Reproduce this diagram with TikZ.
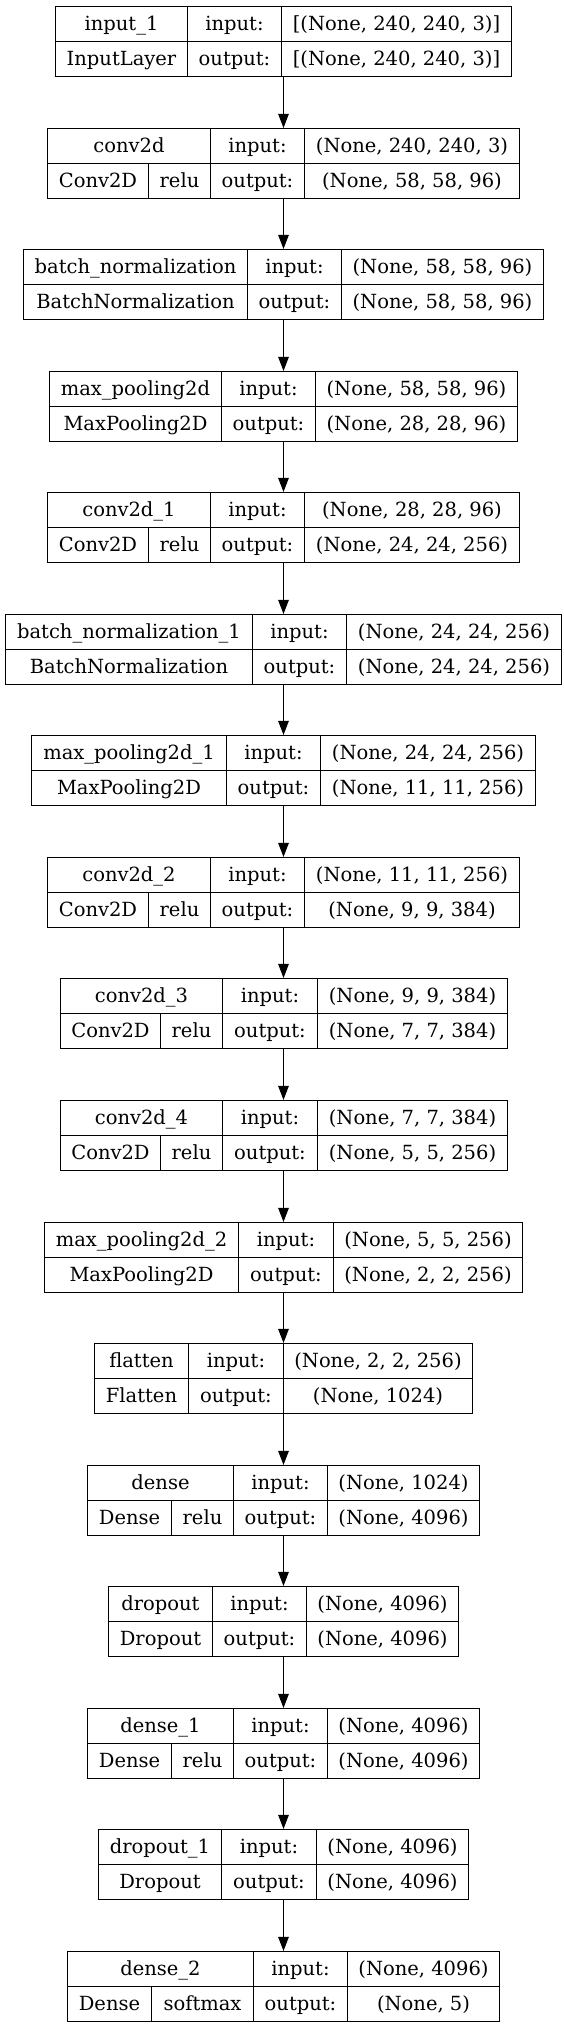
\documentclass[tikz,border=0pt]{standalone}
\usepackage{fontspec}
\setmainfont{DejaVu Serif}
\usetikzlibrary{arrows.meta,fit}
\tikzset{
  lbox/.style={draw=black, line width=1.1pt, inner sep=0pt},
  cellline/.style={draw=black, line width=1.1pt},
  txt/.style={inner sep=0pt, anchor=base, font=\fontsize{19.5}{22}\selectfont},
  arr/.style={draw=black, line width=1.1pt, -{Triangle[length=14pt,width=10.5pt]}}
}
% #1 id, #2 index, #3 left, #4 col1, #5 col2, #6 right
\newcommand\lay[6]{%
  \pgfmathsetmacro\Yt{round(6+#2*121.56)+0.5}%
  \pgfmathsetmacro\Ym{\Yt+35}%
  \pgfmathsetmacro\Yb{\Yt+70}%
  \pgfmathsetmacro\XL{round(#3)+0.5}%
  \pgfmathsetmacro\XA{round(#4)+0.5}%
  \pgfmathsetmacro\XB{round(#5)+0.5}%
  \pgfmathsetmacro\XR{round(#6)+0.5}%
  \def\Lid{#1}%
  \coordinate (#1-tl) at (\XL,\Yt);
  \coordinate (#1-br) at (\XR,\Yb);
  \node[lbox, fit=(#1-tl)(#1-br)] (#1) {};
  \draw[cellline] (\XA,\Yt) -- (\XA,\Yb) (\XB,\Yt) -- (\XB,\Yb) (\XL,\Ym) -- (\XR,\Ym);
  \pgfmathsetmacro\Bt{\Yt+24.3}%
  \pgfmathsetmacro\Bb{\Ym+24.3}%
  \pgfmathsetmacro\Xn{(\XL+\XA)/2}%
  \pgfmathsetmacro\Xio{(\XA+\XB)/2}%
  \pgfmathsetmacro\Xs{(\XB+\XR)/2}%
  \node[txt] (#1-i) at (\Xio,\Bt) {input:};
  \node[txt] (#1-o) at (\Xio,\Bb) {output:};
}
% name, class, in, out
\newcommand\txts[4]{%
  \node[txt] (\Lid-n) at (\Xn,\Bt) {#1};
  \node[txt] (\Lid-c) at (\Xn,\Bb) {#2};
  \node[txt] (\Lid-si) at (\Xs,\Bt) {#3};
  \node[txt] (\Lid-so) at (\Xs,\Bb) {#4};
}
% split, name, class, activation, in, out
\newcommand\txtsact[6]{%
  \pgfmathsetmacro\XS{round(#1)+0.5}%
  \draw[cellline] (\XS,\Ym) -- (\XS,\Yb);
  \pgfmathsetmacro\Xc{(\XL+\XS)/2}%
  \pgfmathsetmacro\Xa{(\XS+\XA)/2}%
  \node[txt] (\Lid-n) at (\Xn,\Bt) {#2};
  \node[txt] (\Lid-c) at (\Xc,\Bb) {#3};
  \node[txt] (\Lid-a) at (\Xa,\Bb) {#4};
  \node[txt] (\Lid-si) at (\Xs,\Bt) {#5};
  \node[txt] (\Lid-so) at (\Xs,\Bb) {#6};
}
\begin{document}
\begin{tikzpicture}[x=1pt,y=-1pt]
\path[fill=white] (0,0) rectangle (564,2027);
\useasboundingbox (0,0) rectangle (564,2027);
\coordinate (ax) at (283.5,0);

\lay{L0}{0}{54.9}{187}{281.2}{511.2}
\txts{input\_1}{InputLayer}{[(None, 240, 240, 3)]}{[(None, 240, 240, 3)]}

\lay{L1}{1}{46.9}{209.7}{304.3}{519.1}
\txtsact{147.7}{conv2d}{Conv2D}{relu}{(None, 240, 240, 3)}{(None, 58, 58, 96)}

\lay{L2}{2}{22.7}{246.6}{341.2}{543.3}
\txts{batch\_normalization}{BatchNormalization}{(None, 58, 58, 96)}{(None, 58, 58, 96)}

\lay{L3}{3}{48.7}{220.6}{315.2}{517.3}
\txts{max\_pooling2d}{MaxPooling2D}{(None, 58, 58, 96)}{(None, 28, 28, 96)}

\lay{L4}{4}{46.9}{209.7}{304.3}{519.1}
\txtsact{147.7}{conv2d\_1}{Conv2D}{relu}{(None, 28, 28, 96)}{(None, 24, 24, 256)}

\lay{L5}{5}{5.4}{251.6}{345.8}{560.6}
\txts{batch\_normalization\_1}{BatchNormalization}{(None, 24, 24, 256)}{(None, 24, 24, 256)}

\lay{L6}{6}{31.4}{225.6}{319.9}{534.7}
\txts{max\_pooling2d\_1}{MaxPooling2D}{(None, 24, 24, 256)}{(None, 11, 11, 256)}

\lay{L7}{7}{46.9}{209.7}{304.3}{519.1}
\txtsact{147.7}{conv2d\_2}{Conv2D}{relu}{(None, 11, 11, 256)}{(None, 9, 9, 384)}

\lay{L8}{8}{59.6}{222.4}{317}{506.5}
\txtsact{159.9}{conv2d\_3}{Conv2D}{relu}{(None, 9, 9, 384)}{(None, 7, 7, 384)}

\lay{L9}{9}{59.6}{222.4}{317}{506.5}
\txtsact{159.9}{conv2d\_4}{Conv2D}{relu}{(None, 7, 7, 384)}{(None, 5, 5, 256)}

\lay{L10}{10}{44}{237.9}{332.5}{522}
\txts{max\_pooling2d\_2}{MaxPooling2D}{(None, 5, 5, 256)}{(None, 2, 2, 256)}

\lay{L11}{11}{93.9}{188.1}{282.7}{472.2}
\txts{flatten}{Flatten}{(None, 2, 2, 256)}{(None, 1024)}

\lay{L12}{12}{86.6}{233.2}{327.4}{479.4}
\txtsact{170.8}{dense}{Dense}{relu}{(None, 1024)}{(None, 4096)}

\lay{L13}{13}{107.6}{211.9}{306.1}{458.1}
\txts{dropout}{Dropout}{(None, 4096)}{(None, 4096)}

\lay{L14}{14}{86.6}{233.2}{327.4}{479.4}
\txtsact{170.8}{dense\_1}{Dense}{relu}{(None, 4096)}{(None, 4096)}

\lay{L15}{15}{98.2}{220.9}{315.5}{467.9}
\txts{dropout\_1}{Dropout}{(None, 4096)}{(None, 4096)}

\lay{L16}{16}{66.8}{252.7}{347.3}{499.3}
\txtsact{150.9}{dense\_2}{Dense}{softmax}{(None, 4096)}{(None, 5)}

\foreach \a/\b in {L0/L1,L1/L2,L2/L3,L3/L4,L4/L5,L5/L6,L6/L7,L7/L8,L8/L9,L9/L10,L10/L11,L11/L12,L12/L13,L13/L14,L14/L15,L15/L16}
  \draw[arr] (\a.south -| ax) -- (\b.north -| ax);
\end{tikzpicture}
\end{document}
